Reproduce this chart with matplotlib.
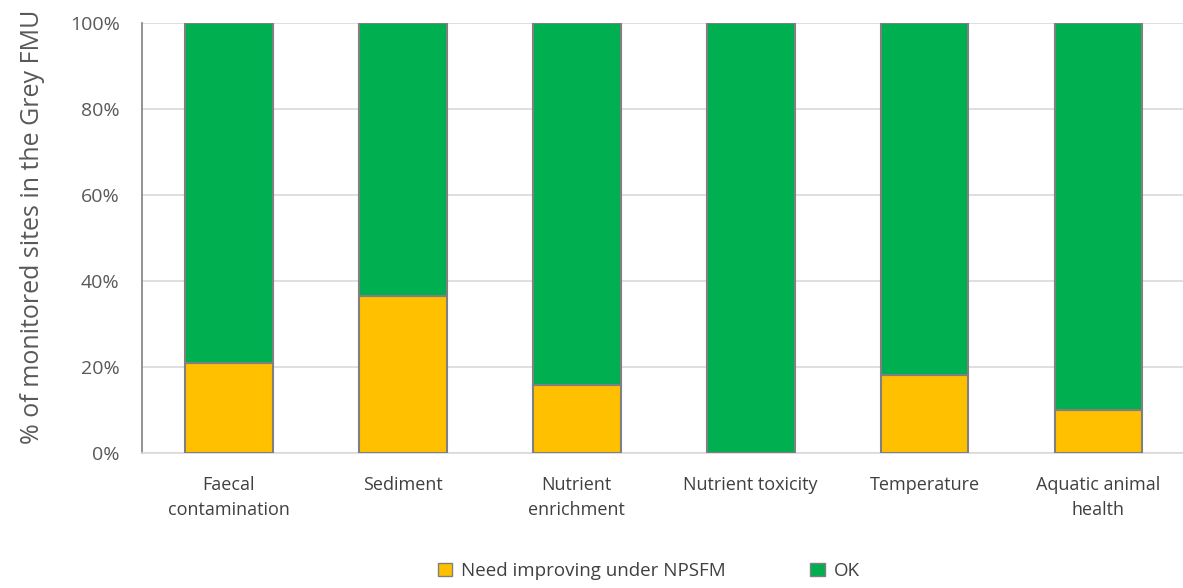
import matplotlib
matplotlib.use("Agg")
import matplotlib.pyplot as plt
from matplotlib.ticker import PercentFormatter
from matplotlib.patches import Patch

# share of monitored sites per attribute group (percent)
categories = ["Faecal\ncontamination", "Sediment", "Nutrient\nenrichment",
              "Nutrient toxicity", "Temperature", "Aquatic animal\nhealth"]
need_improving = [20.8, 36.4, 15.8, 0.0, 18.2, 10.0]
ok = [100 - v for v in need_improving]

yellow = "#FFC000"
green = "#00B050"
edge = "#808080"

plt.rcParams['font.family'] = ['Open Sans', 'DejaVu Sans']

fig = plt.figure(figsize=(11.83, 5.88), dpi=100)
ax = fig.add_axes([0.12, 0.230, 0.882, 0.731])

x = range(len(categories))
ax.bar(x, need_improving, width=0.505, color=yellow, edgecolor=edge, linewidth=1.5, zorder=3)
ax.bar(x, ok, bottom=need_improving, width=0.505, color=green, edgecolor=edge, linewidth=1.5, zorder=3)

ax.set_xlim(-0.5, len(categories) - 0.5)
ax.set_ylim(0, 100)
ax.set_yticks(range(0, 101, 20))
ax.yaxis.set_major_formatter(PercentFormatter(decimals=0))
ax.grid(axis="y", color="#d9d9d9", linewidth=1.2, zorder=0)

ax.set_xticks(list(x))
ax.set_xticklabels(categories, fontsize=13, color="#404040", linespacing=1.45)
ax.tick_params(axis="y", labelsize=14, colors="#595959", length=0, pad=16)
ax.tick_params(axis="x", length=0, pad=17)

for side in ("top", "right"):
    ax.spines[side].set_visible(False)
ax.spines["left"].set_color(edge)
ax.spines["left"].set_linewidth(1.2)
ax.spines["bottom"].set_color("#d9d9d9")
ax.spines["bottom"].set_linewidth(1.2)

ax.set_ylabel("% of monitored sites in the Grey FMU", fontsize=18, color="#595959")
ax.yaxis.set_label_coords(-0.093, 0.525)

handles = [Patch(facecolor=yellow, edgecolor=edge, label="Need improving under NPSFM"),
           Patch(facecolor=green, edgecolor=edge, label="OK")]
fig.legend(handles=handles, loc="center", bbox_to_anchor=(0.5485, 0.029), ncol=2,
           frameon=False, fontsize=13.5, handlelength=0.75, handleheight=0.75,
           handletextpad=0.5, columnspacing=4.5, labelcolor="#404040")

fig.savefig("out.png", dpi=100)
